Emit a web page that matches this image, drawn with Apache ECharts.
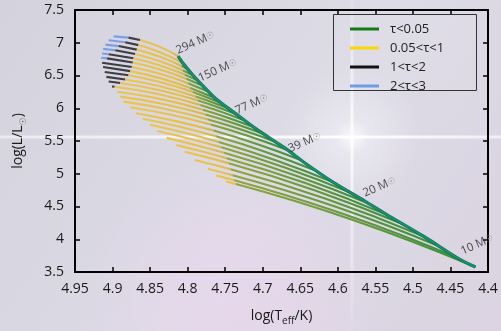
<!DOCTYPE html>
<html><head><meta charset="utf-8">
<script src="https://cdn.jsdelivr.net/npm/echarts@6/dist/echarts.min.js"></script>
<style>html,body{margin:0;padding:0;background:#d8d7e2}#c{width:501px;height:331px}</style>
</head><body><div id="c"></div>
<script>
const FONT = "'Open Sans', 'DejaVu Sans', sans-serif";
const legendNames = ['τ<0.05', '0.05<τ<1', '1<τ<2', '2<τ<3'];
const legendColors = ['#137a13', '#ffd500', '#111111', '#6e9ce8'];

// zero-age main sequence [log Teff, log L]
const zams = [[4.8127,6.796],[4.8061,6.685],[4.7929,6.504],[4.7797,6.343],[4.7621,6.142],[4.7357,5.915],[4.7093,5.689],[4.6829,5.487],[4.6697,5.387],[4.6433,5.160],[4.6081,4.884],[4.5641,4.582],[4.5355,4.381],[4.4849,4.038],[4.4387,3.701],[4.4167,3.576]];

// evolutionary tracks, points from hot end to ZAMS
const tracks = [
[[4.8985,7.098],[4.8787,7.078],[4.8633,7.042],[4.8369,6.937],[4.8127,6.796]],
[[4.9051,7.037],[4.8831,7.007],[4.8655,6.964],[4.8369,6.855],[4.8096,6.707],[4.8061,6.685]],
[[4.9095,6.972],[4.8919,6.949],[4.8677,6.895],[4.8369,6.786],[4.8083,6.645],[4.7995,6.594]],
[[4.9126,6.906],[4.8963,6.885],[4.8699,6.827],[4.8369,6.717],[4.8061,6.576],[4.7929,6.504]],
[[4.9139,6.836],[4.9051,6.825],[4.8721,6.763],[4.8369,6.654],[4.8039,6.514],[4.7863,6.423]],
[[4.9152,6.770],[4.9073,6.761],[4.8730,6.698],[4.8369,6.592],[4.8017,6.450],[4.7797,6.343]],
[[4.9139,6.695],[4.8743,6.629],[4.8369,6.525],[4.7995,6.383],[4.7718,6.252]],
[[4.9126,6.630],[4.8765,6.567],[4.8369,6.460],[4.7964,6.310],[4.7634,6.157]],
[[4.9104,6.554],[4.8787,6.503],[4.8369,6.400],[4.7929,6.247],[4.7542,6.076]],
[[4.9082,6.479],[4.8831,6.440],[4.8369,6.335],[4.7894,6.180],[4.7665,6.089],[4.7445,5.991]],
[[4.9051,6.408],[4.8897,6.386],[4.8369,6.275],[4.7863,6.117],[4.7599,6.016],[4.7344,5.905]],
[[4.9007,6.333],[4.8972,6.328],[4.8413,6.221],[4.7832,6.049],[4.7533,5.937],[4.7234,5.809]],
[[4.8941,6.252],[4.8369,6.143],[4.7797,5.978],[4.7445,5.849],[4.7115,5.709]],
[[4.8897,6.177],[4.8325,6.065],[4.7762,5.905],[4.7357,5.761],[4.6979,5.603]],
[[4.8853,6.101],[4.8325,5.996],[4.7727,5.829],[4.7269,5.669],[4.6829,5.487]],
[[4.8765,6.016],[4.8237,5.904],[4.7691,5.751],[4.7181,5.573],[4.6671,5.362]],
[[4.8686,5.925],[4.8171,5.807],[4.7656,5.659],[4.7049,5.444],[4.6486,5.206]],
[[4.8598,5.840],[4.8105,5.717],[4.7621,5.571],[4.6961,5.333],[4.6279,5.040]],
[[4.8501,5.749],[4.8039,5.626],[4.7586,5.485],[4.6829,5.207],[4.6059,4.869]],
[[4.8404,5.653],[4.7973,5.535],[4.7551,5.403],[4.6697,5.090],[4.5826,4.708]],
[[4.8281,5.548],[4.7885,5.436],[4.7515,5.320],[4.6565,4.975],[4.5588,4.547]],
[[4.8149,5.437],[4.7819,5.343],[4.7480,5.238],[4.6433,4.858],[4.5351,4.376]],
[[4.8039,5.337],[4.7753,5.254],[4.7454,5.161],[4.6301,4.746],[4.5113,4.220]],
[[4.7907,5.211],[4.7665,5.140],[4.7427,5.068],[4.6169,4.621],[4.4867,4.048]],
[[4.7731,5.075],[4.7577,5.030],[4.7401,4.977],[4.6037,4.499],[4.4642,3.887]],
[[4.7621,4.974],[4.7498,4.937],[4.7379,4.901],[4.5905,4.377],[4.4409,3.716]],
[[4.7489,4.884],[4.7423,4.864],[4.7357,4.843],[4.5817,4.301],[4.4167,3.576]]
];
// index where the 2<τ<3, 1<τ<2 and 0.05<τ<1 parts end on each track
const phaseEnds = [
[1,2,4],[1,2,4],[1,2,4],[1,2,4],[1,2,4],[1,2,4],
[0,1,3],[0,1,3],[0,1,3],[0,1,3],[0,1,3],[0,1,3],
[0,0,2],[0,0,2],[0,0,2],[0,0,2],[0,0,2],[0,0,2],[0,0,2],[0,0,2],[0,0,2],
[0,0,2],[0,0,2],[0,0,2],[0,0,2],[0,0,2],[0,0,2]
];

const massLabels = ['294', '150', '77', '39', '20', '10'];
const massT = [4.8115, 4.7818, 4.7324, 4.6618, 4.5622, 4.4323];
const massL = [6.791, 6.368, 5.870, 5.289, 4.610, 3.727];

const chart = echarts.init(document.getElementById('c'), null, {renderer: 'canvas'});
const G = echarts.graphic;

const greenGrad = () => new G.LinearGradient(0, 0, 1, 0, [
  {offset: 0, color: '#93a63e'}, {offset: 1, color: '#368c3c'}]);
const yellowGrad = () => new G.LinearGradient(0, 0, 1, 0, [
  {offset: 0, color: '#ecc44e'}, {offset: 0.75, color: '#e6bf4c'}, {offset: 1, color: '#cfb448'}]);
const phaseStyle = [
  () => '#7b9fe6',
  () => '#3d3d42',
  yellowGrad,
  greenGrad
];

const series = [];
tracks.forEach((pts, i) => {
  const e = phaseEnds[i];
  const b = [0, e[0], e[1], e[2], pts.length - 1];
  for (let p = 0; p < 4; p++) {
    if (b[p + 1] > b[p]) {
      series.push({
        type: 'line', name: 't' + i + '_' + p, data: pts.slice(b[p], b[p + 1] + 1),
        smooth: 0.5, showSymbol: false, silent: true, z: 2,
        lineStyle: {color: phaseStyle[p](), width: 2.1}
      });
    }
  }
});
series.push({type: 'line', name: 'zams_o', data: zams, smooth: 0.3, showSymbol: false, silent: true, z: 4,
  lineStyle: {color: '#1d7a34', width: 3.3}});
series.push({type: 'line', name: 'zams_i', data: zams, smooth: 0.3, showSymbol: false, silent: true, z: 5,
  lineStyle: {color: '#138e8a', width: 1.8}});
series.push({
  type: 'scatter', name: 'masses', symbolSize: 0, silent: true, z: 6,
  data: massT.map((t, i) => ({value: [t, massL[i]], name: massLabels[i]})),
  label: {
    show: true, position: [0, 0], align: 'left', verticalAlign: 'bottom', rotate: 24,
    formatter: p => p.name + ' M{s|☉}', fontSize: 11.5, fontFamily: FONT, color: '#222',
    rich: {s: {fontSize: 9, color: '#888', fontFamily: FONT}}
  }
});
legendNames.forEach((n, i) => series.push({
  type: 'line', name: n, data: [], itemStyle: {color: legendColors[i]}, lineStyle: {color: legendColors[i]}
}));

const axLine = {show: true, onZero: false, lineStyle: {color: '#000', width: 2}};
const axTick = {show: true, inside: true, length: 5, lineStyle: {color: '#000', width: 1.5}};
const xBase = {type: 'value', min: 4.4, max: 4.95, interval: 0.05, inverse: true, splitLine: {show: false}, axisLine: axLine, axisTick: axTick};
const yBase = {type: 'value', min: 3.5, max: 7.5, interval: 0.5, splitLine: {show: false}, axisLine: axLine, axisTick: axTick};

chart.setOption({
  animation: false,
  backgroundColor: new G.LinearGradient(0, 0, 1, 1, [
    {offset: 0, color: '#d3d2dd'}, {offset: 0.55, color: '#dcdbe6'}, {offset: 1, color: '#dbd3e1'}]),
  grid: {left: 71, right: 13, top: 10, bottom: 56, containLabel: false},
  xAxis: [
    Object.assign({}, xBase, {
      position: 'bottom',
      axisLabel: {margin: 10, fontSize: 14, fontFamily: FONT, color: '#1a1a1a', formatter: v => String(+(+v).toFixed(2))},
      name: 'log(T{s|eff}/K)', nameLocation: 'middle', nameGap: 34,
      nameTextStyle: {fontSize: 14, fontFamily: FONT, color: '#1a1a1a', lineHeight: 20,
        rich: {s: {fontSize: 10, fontFamily: FONT, color: '#1a1a1a', verticalAlign: 'bottom'}}}
    }),
    Object.assign({}, xBase, {position: 'top', axisLabel: {show: false}})
  ],
  yAxis: [
    Object.assign({}, yBase, {
      position: 'left',
      axisLabel: {margin: 11, fontSize: 14, fontFamily: FONT, color: '#1a1a1a', formatter: v => String(+(+v).toFixed(1))},
      name: 'log(L/L{s|☉})', nameLocation: 'middle', nameGap: 47,
      nameTextStyle: {fontSize: 14, fontFamily: FONT, color: '#1a1a1a', lineHeight: 20,
        rich: {s: {fontSize: 9, fontFamily: FONT, color: '#666', verticalAlign: 'bottom'}}}
    }),
    Object.assign({}, yBase, {position: 'right', axisLabel: {show: false}})
  ],
  legend: {
    orient: 'vertical', left: 345, top: 17, itemWidth: 29, itemHeight: 3, itemGap: 5,
    icon: 'rect', selectedMode: false, data: legendNames,
    textStyle: {fontSize: 13, fontFamily: FONT, color: '#222', lineHeight: 14, padding: [0, 0, 0, 6]}
  },
  graphic: [
    {type: 'circle', z: -1, silent: true, shape: {cx: 230, cy: 300, r: 160},
      style: {fill: new G.RadialGradient(0.5, 0.5, 0.5, [
        {offset: 0, color: 'rgba(240,212,240,0.55)'}, {offset: 1, color: 'rgba(240,212,240,0)'}])}},
    {type: 'circle', z: -1, silent: true, shape: {cx: 352, cy: 137, r: 70},
      style: {fill: new G.RadialGradient(0.5, 0.5, 0.5, [
        {offset: 0, color: 'rgba(255,255,255,0.85)'}, {offset: 0.25, color: 'rgba(255,255,255,0.35)'}, {offset: 1, color: 'rgba(255,255,255,0)'}])}},
    {type: 'rect', z: -1, silent: true, shape: {x: 0, y: 135.5, width: 501, height: 3},
      style: {fill: new G.LinearGradient(0, 0, 1, 0, [
        {offset: 0, color: 'rgba(255,255,255,0.5)'}, {offset: 0.7, color: 'rgba(255,255,255,0.95)'}, {offset: 1, color: 'rgba(255,255,255,0.6)'}])}},
    {type: 'rect', z: -1, silent: true, shape: {x: 350.5, y: 0, width: 3, height: 331},
      style: {fill: new G.LinearGradient(0, 0, 0, 1, [
        {offset: 0, color: 'rgba(255,255,255,0.15)'}, {offset: 0.41, color: 'rgba(255,255,255,0.8)'}, {offset: 1, color: 'rgba(255,255,255,0.05)'}])}},
    {type: 'rect', z: 3, silent: true, shape: {x: 333.5, y: 14.5, width: 143, height: 76},
      style: {fill: 'rgba(255,255,255,0.06)', stroke: '#333', lineWidth: 1}}
  ],
  series: series
});
</script></body></html>
